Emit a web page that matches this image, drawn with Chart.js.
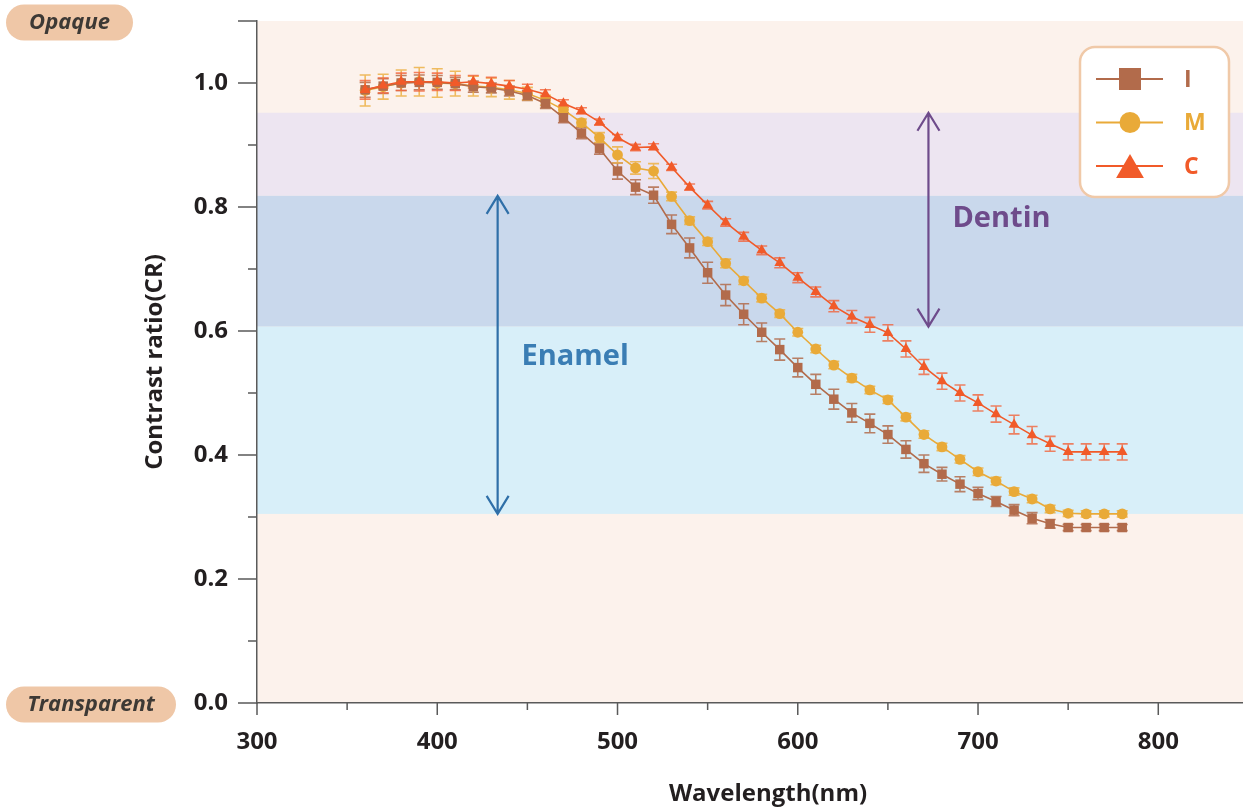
<!DOCTYPE html>
<html>
<head>
<meta charset="utf-8">
<script src="https://cdn.jsdelivr.net/npm/chart.js@4.4.0/dist/chart.umd.min.js"></script>
<style>
html, body { margin: 0; padding: 0; background: #fff; }
#wrap { width: 1243px; height: 809px; }
</style>
</head>
<body>
<div id="wrap"><canvas id="myChart"></canvas></div>
<script>
// wavelength (nm)
var wavelengths = [360, 370, 380, 390, 400, 410, 420, 430, 440, 450,
    460, 470, 480, 490, 500, 510, 520, 530, 540, 550,
    560, 570, 580, 590, 600, 610, 620, 630, 640, 650,
    660, 670, 680, 690, 700, 710, 720, 730, 740, 750,
    760, 770, 780];

var valuesI = [0.989, 0.995, 1.000, 1.001, 1.001, 0.999, 0.994, 0.992, 0.987, 0.980,
    0.967, 0.944, 0.919, 0.894, 0.858, 0.832, 0.819, 0.772, 0.734, 0.694,
    0.658, 0.627, 0.598, 0.570, 0.541, 0.514, 0.490, 0.468, 0.451, 0.433,
    0.409, 0.386, 0.369, 0.353, 0.338, 0.325, 0.311, 0.298, 0.289, 0.283,
    0.283, 0.283, 0.283];
var errI = [0.012, 0.012, 0.012, 0.012, 0.011, 0.010, 0.009, 0.008, 0.008, 0.008,
    0.008, 0.008, 0.009, 0.009, 0.013, 0.012, 0.013, 0.015, 0.016, 0.017,
    0.017, 0.017, 0.015, 0.017, 0.015, 0.016, 0.016, 0.015, 0.015, 0.014,
    0.014, 0.014, 0.011, 0.012, 0.010, 0.008, 0.009, 0.009, 0.007, 0.005,
    0.005, 0.005, 0.005];

var valuesM = [0.988, 0.994, 1.000, 1.002, 1.000, 0.999, 0.995, 0.993, 0.989, 0.983,
    0.972, 0.957, 0.936, 0.912, 0.884, 0.863, 0.858, 0.817, 0.778, 0.744,
    0.709, 0.681, 0.653, 0.628, 0.598, 0.571, 0.545, 0.524, 0.505, 0.489,
    0.461, 0.433, 0.413, 0.393, 0.373, 0.358, 0.341, 0.329, 0.313, 0.306,
    0.305, 0.305, 0.305];
var errM = [0.025, 0.020, 0.021, 0.023, 0.023, 0.020, 0.016, 0.015, 0.015, 0.010,
    0.008, 0.007, 0.006, 0.008, 0.013, 0.010, 0.012, 0.007, 0.006, 0.006,
    0.007, 0.006, 0.006, 0.006, 0.006, 0.006, 0.006, 0.006, 0.006, 0.006,
    0.006, 0.006, 0.006, 0.006, 0.006, 0.006, 0.006, 0.006, 0.006, 0.005,
    0.005, 0.005, 0.005];

var valuesC = [0.989, 0.996, 1.002, 1.002, 1.002, 1.000, 1.002, 0.999, 0.995, 0.990,
    0.982, 0.967, 0.955, 0.937, 0.912, 0.896, 0.897, 0.864, 0.832, 0.803,
    0.775, 0.752, 0.730, 0.710, 0.686, 0.663, 0.640, 0.623, 0.610, 0.597,
    0.571, 0.542, 0.519, 0.500, 0.484, 0.466, 0.449, 0.432, 0.418, 0.405,
    0.405, 0.405, 0.405];
var errC = [0.015, 0.012, 0.014, 0.015, 0.014, 0.012, 0.010, 0.010, 0.009, 0.008,
    0.007, 0.006, 0.005, 0.005, 0.005, 0.005, 0.005, 0.005, 0.005, 0.006,
    0.006, 0.007, 0.007, 0.008, 0.008, 0.008, 0.009, 0.010, 0.012, 0.013,
    0.013, 0.012, 0.013, 0.013, 0.013, 0.013, 0.015, 0.014, 0.012, 0.013,
    0.013, 0.013, 0.013];

var seriesNames = ['I', 'M', 'C'];
var xTickLabels = [300, 400, 500, 600, 700, 800];
var yTickLabels = [0.0, 0.2, 0.4, 0.6, 0.8, 1.0];

// shaded regions: [from, to]
var dentinBand = [0.818, 0.952];
var enamelDeepBand = [0.607, 0.818];
var enamelBand = [0.305, 0.607];

var colI = '#b26b4b', colM = '#e9aa38', colC = '#f15a29';
var textDark = '#231f20';
var axisCol = '#5a5a5a';

Chart.defaults.font.family = '"Open Sans", "Noto Sans", sans-serif';
Chart.defaults.font.weight = 'bold';
Chart.defaults.color = textDark;

function toPoints(vals) {
    return wavelengths.map(function (w, i) { return { x: w, y: vals[i] }; });
}

function roundRect(ctx, x, y, w, h, r) {
    ctx.beginPath();
    ctx.moveTo(x + r, y);
    ctx.lineTo(x + w - r, y);
    ctx.arcTo(x + w, y, x + w, y + r, r);
    ctx.lineTo(x + w, y + h - r);
    ctx.arcTo(x + w, y + h, x + w - r, y + h, r);
    ctx.lineTo(x + r, y + h);
    ctx.arcTo(x, y + h, x, y + h - r, r);
    ctx.lineTo(x, y + r);
    ctx.arcTo(x, y, x + r, y, r);
    ctx.closePath();
}

function marker(ctx, style, x, y, size, color) {
    ctx.fillStyle = color;
    ctx.beginPath();
    if (style === 'rect') {
        ctx.rect(x - size / 2, y - size / 2, size, size);
    } else if (style === 'circle') {
        ctx.arc(x, y, size / 2, 0, Math.PI * 2);
    } else {
        ctx.moveTo(x, y - size * 0.5);
        ctx.lineTo(x + size * 0.58, y + size * 0.5);
        ctx.lineTo(x - size * 0.58, y + size * 0.5);
        ctx.closePath();
    }
    ctx.fill();
}

function arrow(ctx, x, y1, y2, color) {
    ctx.save();
    ctx.strokeStyle = color;
    ctx.lineWidth = 2.2;
    ctx.beginPath();
    ctx.moveTo(x, y1); ctx.lineTo(x, y2);
    ctx.moveTo(x - 11, y1 + 18); ctx.lineTo(x, y1); ctx.lineTo(x + 11, y1 + 18);
    ctx.moveTo(x - 11, y2 - 18); ctx.lineTo(x, y2); ctx.lineTo(x + 11, y2 - 18);
    ctx.stroke();
    ctx.restore();
}

var bandsPlugin = {
    id: 'bands',
    beforeDraw: function (chart) {
        var ctx = chart.ctx, a = chart.chartArea, y = chart.scales.y;
        ctx.save();
        ctx.fillStyle = '#fcf2ec';
        ctx.fillRect(a.left, a.top, a.right - a.left, a.bottom - a.top);
        [[dentinBand, '#ede5f1'], [enamelDeepBand, '#c9d8ec'], [enamelBand, '#d8eff9']].forEach(function (b) {
            var top = y.getPixelForValue(b[0][1]), bot = y.getPixelForValue(b[0][0]);
            ctx.fillStyle = b[1];
            ctx.fillRect(a.left, top, a.right - a.left, bot - top);
        });
        ctx.restore();
    }
};

var errorBarsPlugin = {
    id: 'errorBars',
    beforeDatasetsDraw: function (chart) {
        var ctx = chart.ctx, y = chart.scales.y;
        ctx.save();
        chart.data.datasets.forEach(function (ds, i) {
            var meta = chart.getDatasetMeta(i);
            ctx.strokeStyle = ds.errColor;
            ctx.lineWidth = 1.6;
            meta.data.forEach(function (pt, j) {
                var v = ds.data[j].y, e = ds.errors[j];
                var yt = y.getPixelForValue(v + e), yb = y.getPixelForValue(v - e);
                ctx.beginPath();
                ctx.moveTo(pt.x, yt); ctx.lineTo(pt.x, yb);
                ctx.moveTo(pt.x - 5.5, yt); ctx.lineTo(pt.x + 5.5, yt);
                ctx.moveTo(pt.x - 5.5, yb); ctx.lineTo(pt.x + 5.5, yb);
                ctx.stroke();
            });
        });
        ctx.restore();
    }
};

var decorPlugin = {
    id: 'decor',
    afterDraw: function (chart) {
        var ctx = chart.ctx, x = chart.scales.x, y = chart.scales.y, a = chart.chartArea;
        ctx.save();
        // tick marks
        ctx.strokeStyle = axisCol;
        ctx.lineWidth = 1.5;
        ctx.beginPath();
        for (var v = 0; v <= 11; v++) {
            var py = y.getPixelForValue(v / 10);
            var len = (v % 2 === 0 || v === 11) ? 19 : 9;
            ctx.moveTo(a.left - len, py); ctx.lineTo(a.left, py);
        }
        for (var w = 300; w <= 800; w += 50) {
            var px = x.getPixelForValue(w);
            var tl = (w % 100 === 0) ? 12 : 7;
            ctx.moveTo(px, a.bottom); ctx.lineTo(px, a.bottom + tl);
        }
        ctx.stroke();

        // x axis title
        ctx.font = 'bold 24px "Open Sans", sans-serif';
        ctx.textAlign = 'center';
        ctx.textBaseline = 'middle';
        ctx.fillStyle = textDark;
        ctx.fillText('Wavelength(nm)', 768, 794);

        // Dentin / Enamel arrows and labels
        arrow(ctx, x.getPixelForValue(672.5), y.getPixelForValue(dentinBand[1]), y.getPixelForValue(enamelDeepBand[0]), '#6e4b8b');
        arrow(ctx, x.getPixelForValue(433.5), y.getPixelForValue(dentinBand[0]), y.getPixelForValue(enamelBand[0]), '#2f6fa8');
        ctx.font = 'bold 29px "Open Sans", sans-serif';
        ctx.fillStyle = '#6e4b8b';
        ctx.fillText('Dentin', x.getPixelForValue(713), y.getPixelForValue(0.781));
        ctx.fillStyle = '#3a7db4';
        ctx.fillText('Enamel', x.getPixelForValue(476.5), y.getPixelForValue(0.559));

        // Opaque / Transparent pills
        ctx.font = 'italic bold 22px "Open Sans", sans-serif';
        [['Opaque', 6, 127, 1.1], ['Transparent', 6, 170, 0.0]].forEach(function (p) {
            var cy = y.getPixelForValue(p[3]) + 1.5;
            ctx.fillStyle = '#efc7a7';
            roundRect(ctx, p[1], cy - 18, p[2], 36, 18);
            ctx.fill();
            ctx.fillStyle = '#3d3935';
            ctx.fillText(p[0], p[1] + p[2] / 2, cy);
        });

        // legend box
        ctx.fillStyle = '#ffffff';
        ctx.strokeStyle = '#f0c9a8';
        ctx.lineWidth = 2.5;
        roundRect(ctx, 1080, 47, 149, 150, 15);
        ctx.fill();
        ctx.stroke();
        var legendRows = [[colI, 'rect', 22], [colM, 'circle', 21], [colC, 'tri', 24]];
        ctx.font = 'bold 23px "Open Sans", sans-serif';
        ctx.textAlign = 'left';
        seriesNames.forEach(function (name, i) {
            var ry = 79 + i * 43.5;
            ctx.strokeStyle = legendRows[i][0];
            ctx.lineWidth = 2;
            ctx.beginPath();
            ctx.moveTo(1096, ry); ctx.lineTo(1163, ry);
            ctx.stroke();
            marker(ctx, legendRows[i][1], 1130, ry, legendRows[i][2], legendRows[i][0]);
            ctx.fillStyle = legendRows[i][0];
            ctx.fillText(name, 1184, ry + 1);
        });
        ctx.restore();
    }
};

var ctx = document.getElementById('myChart').getContext('2d');
var myChart = new Chart(ctx, {
    type: 'line',
    data: {
        datasets: [{
            label: seriesNames[0],
            data: toPoints(valuesI),
            errors: errI,
            errColor: 'rgba(178,107,75,0.85)',
            borderColor: colI,
            backgroundColor: colI,
            pointStyle: 'rect',
            pointRadius: 6.7,
            order: 1
        }, {
            label: seriesNames[1],
            data: toPoints(valuesM),
            errors: errM,
            errColor: 'rgba(236,178,70,0.85)',
            borderColor: colM,
            backgroundColor: colM,
            pointStyle: 'circle',
            pointRadius: 5.4,
            order: 2
        }, {
            label: seriesNames[2],
            data: toPoints(valuesC),
            errors: errC,
            errColor: 'rgba(241,100,60,0.8)',
            borderColor: colC,
            backgroundColor: colC,
            pointStyle: 'triangle',
            pointRadius: 6.2,
            order: 0
        }]
    },
    options: {
        responsive: true,
        maintainAspectRatio: false,
        animation: false,
        layout: { autoPadding: false, padding: { top: 21, right: 0, bottom: 0, left: 0 } },
        elements: {
            line: { borderWidth: 1.6, tension: 0 },
            point: { borderWidth: 0, hoverRadius: 6 }
        },
        plugins: {
            legend: { display: false },
            tooltip: { enabled: false }
        },
        scales: {
            x: {
                type: 'linear',
                min: 300,
                max: 847,
                afterFit: function (s) { s.height = 106; s.paddingLeft = 0; s.paddingRight = 0; },
                afterBuildTicks: function (s) {
                    s.ticks = xTickLabels.map(function (v) { return { value: v }; });
                },
                grid: { display: false, drawTicks: false },
                border: { display: true, color: axisCol, width: 1.5 },
                ticks: { padding: 25, font: { size: 24, weight: 'bold' }, color: textDark }
            },
            y: {
                min: 0,
                max: 1.1,
                afterFit: function (s) { s.width = 257; s.paddingTop = 0; s.paddingBottom = 0; },
                afterBuildTicks: function (s) {
                    s.ticks = yTickLabels.map(function (v) { return { value: v }; });
                },
                grid: { display: false, drawTicks: false },
                border: { display: true, color: axisCol, width: 1.5 },
                ticks: {
                    padding: 29,
                    font: { size: 24, weight: 'bold' },
                    color: textDark,
                    callback: function (v) { return v.toFixed(1); }
                },
                title: {
                    display: true,
                    text: 'Contrast ratio(CR)',
                    font: { size: 24, weight: 'bold' },
                    color: textDark,
                    padding: { top: 141, bottom: 0 }
                }
            }
        }
    },
    plugins: [bandsPlugin, errorBarsPlugin, decorPlugin]
});
</script>
</body>
</html>
